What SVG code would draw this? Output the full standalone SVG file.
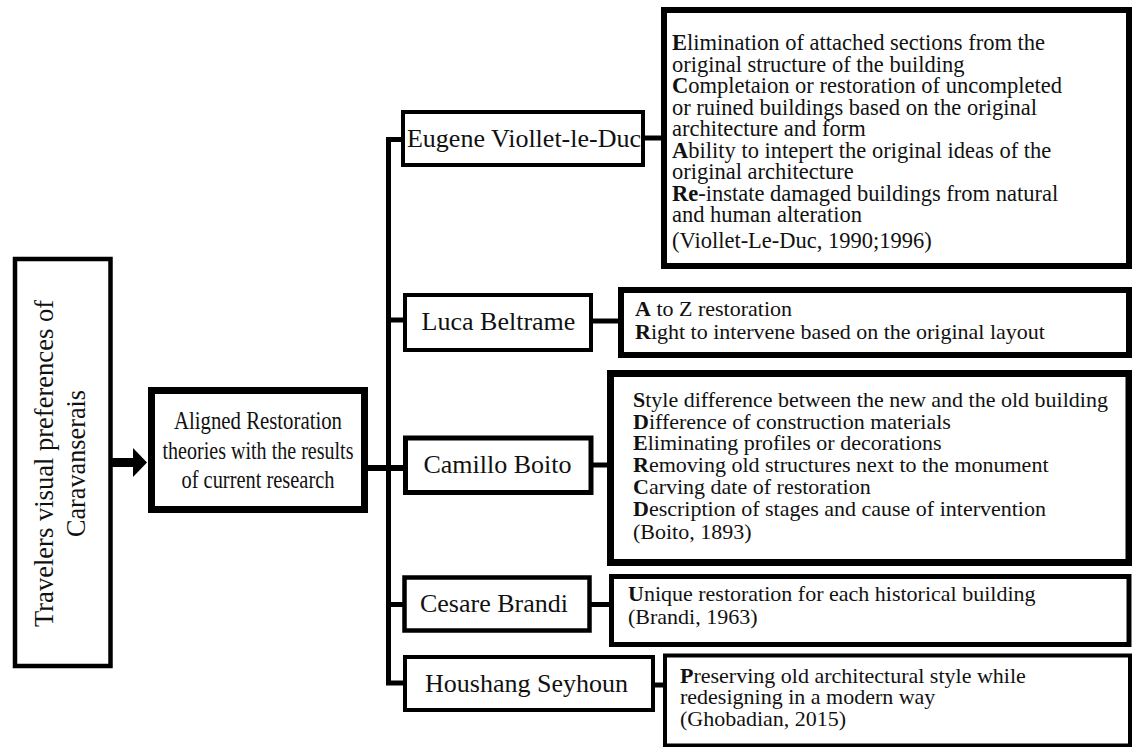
<svg xmlns="http://www.w3.org/2000/svg" width="1132" height="747" viewBox="0 0 1132 747">
<style>
text{font-family:"Liberation Serif","Times New Roman",serif;fill:#111}
.box{fill:#fff;stroke:#000}
.name{font-size:26px;text-anchor:middle}
.desc{font-size:22px}
.d1{font-size:22.5px}
.b{font-weight:bold}
.con{stroke:#000;fill:none}
</style>
<defs>
<marker id="ah" markerUnits="userSpaceOnUse" markerWidth="15" markerHeight="30" refX="0" refY="14.5" orient="auto">
<path d="M0,0 L14,14.5 L0,29 Z" fill="#000"/>
</marker>
</defs>
<rect width="1132" height="747" fill="#fff"/>

<g id="connectors">
<line class="con" x1="112" y1="462.5" x2="133" y2="462.5" stroke-width="9" marker-end="url(#ah)"/>
<line class="con" x1="388.5" y1="137" x2="388.5" y2="685" stroke-width="5"/>
<line class="con" x1="386" y1="139.5" x2="403" y2="139.5" stroke-width="5"/>
<line class="con" x1="388" y1="320" x2="404" y2="320" stroke-width="5"/>
<line class="con" x1="366" y1="468" x2="404" y2="468" stroke-width="6"/>
<line class="con" x1="388" y1="604.5" x2="403" y2="604.5" stroke-width="5"/>
<line class="con" x1="386" y1="683" x2="404" y2="683" stroke-width="5"/>
<line class="con" x1="644" y1="138" x2="663" y2="138" stroke-width="5"/>
<line class="con" x1="592" y1="321" x2="620" y2="321" stroke-width="5"/>
<line class="con" x1="592" y1="465" x2="609" y2="465" stroke-width="5"/>
<line class="con" x1="591" y1="604.5" x2="611" y2="604.5" stroke-width="5"/>
<line class="con" x1="654" y1="685" x2="665" y2="685" stroke-width="5"/>
</g>

<g id="n-travelers">
<rect class="box" x="15" y="259" width="95.5" height="407" stroke-width="4.5"/>
<text transform="translate(53,463.5) rotate(-90)" font-size="28" text-anchor="middle" textLength="327" lengthAdjust="spacingAndGlyphs">Travelers visual  preferences of</text>
<text transform="translate(85,463.5) rotate(-90)" font-size="28" text-anchor="middle" textLength="147" lengthAdjust="spacingAndGlyphs">Caravanserais</text>
</g>

<g id="n-aligned">
<rect class="box" x="151.5" y="390.5" width="213" height="119" stroke-width="7"/>
<text x="258" y="429" font-size="25.5" text-anchor="middle" textLength="168" lengthAdjust="spacingAndGlyphs">Aligned Restoration</text>
<text x="258" y="458.5" font-size="25.5" text-anchor="middle" textLength="191" lengthAdjust="spacingAndGlyphs">theories with the results</text>
<text x="258" y="488" font-size="25.5" text-anchor="middle" textLength="153" lengthAdjust="spacingAndGlyphs">of current research</text>
</g>

<g id="n-eugene">
<rect class="box" x="403" y="112" width="240" height="53" stroke-width="4"/>
<text class="name" x="524" y="147" font-size="24.5">Eugene Viollet-le-Duc</text>
</g>
<g id="n-luca">
<rect class="box" x="405" y="295" width="186" height="55" stroke-width="4"/>
<text class="name" x="498.5" y="330">Luca Beltrame</text>
</g>
<g id="n-camillo">
<rect class="box" x="405.5" y="438" width="185.5" height="54.5" stroke-width="5"/>
<text class="name" x="497.5" y="473">Camillo Boito</text>
</g>
<g id="n-cesare">
<rect class="box" x="404.5" y="577.5" width="185" height="53" stroke-width="4.5"/>
<text class="name" x="494" y="612">Cesare Brandi</text>
</g>
<g id="n-houshang">
<rect class="box" x="405" y="657" width="248" height="53" stroke-width="4"/>
<text class="name" x="526.5" y="692">Houshang Seyhoun</text>
</g>

<g id="d-eugene">
<rect class="box" x="664" y="10" width="465" height="256" stroke-width="6"/>
<text class="d1" x="672" y="50"><tspan class="b">E</tspan>limination of attached sections from the</text>
<text class="d1" x="672" y="71.5">original structure of the building</text>
<text class="d1" x="672" y="93"><tspan class="b">C</tspan>ompletaion or restoration of uncompleted</text>
<text class="d1" x="672" y="114.5">or ruined buildings based on the original</text>
<text class="d1" x="672" y="136">architecture and form</text>
<text class="d1" x="672" y="157.5"><tspan class="b">A</tspan>bility to intepert the original ideas of the</text>
<text class="d1" x="672" y="179">original architecture</text>
<text class="d1" x="672" y="200.5"><tspan class="b">Re</tspan>-instate damaged buildings from natural</text>
<text class="d1" x="672" y="222">and human alteration</text>
<text class="d1" x="672" y="248">(Viollet-Le-Duc, 1990;1996)</text>
</g>
<g id="d-luca">
<rect class="box" x="621" y="290" width="508" height="65" stroke-width="6"/>
<text class="desc" x="635" y="316"><tspan class="b">A</tspan> to Z restoration</text>
<text class="desc" x="635" y="339"><tspan class="b">R</tspan>ight to intervene based on the original layout</text>
</g>
<g id="d-camillo">
<rect class="box" x="610.5" y="373.5" width="518.5" height="189" stroke-width="7"/>
<text class="desc" x="633" y="407"><tspan class="b">S</tspan>tyle difference between the new and the old building</text>
<text class="desc" x="633" y="428.5"><tspan class="b">D</tspan>ifference of construction materials</text>
<text class="desc" x="633" y="450"><tspan class="b">E</tspan>liminating profiles or decorations</text>
<text class="desc" x="633" y="472"><tspan class="b">R</tspan>emoving old structures next to the monument</text>
<text class="desc" x="633" y="494"><tspan class="b">C</tspan>arving date of restoration</text>
<text class="desc" x="633" y="516"><tspan class="b">D</tspan>escription of stages and cause of intervention</text>
<text class="desc" x="633" y="539">(Boito, 1893)</text>
</g>
<g id="d-cesare">
<rect class="box" x="611.5" y="576.5" width="517.5" height="68" stroke-width="5"/>
<text class="desc" x="628" y="601"><tspan class="b">U</tspan>nique restoration for each historical building</text>
<text class="desc" x="628" y="624">(Brandi, 1963)</text>
</g>
<g id="d-houshang">
<rect class="box" x="665" y="655.5" width="465" height="90" stroke-width="4"/>
<text class="desc" x="680" y="683"><tspan class="b">P</tspan>reserving old architectural style while</text>
<text class="desc" x="680" y="704">redesigning in a modern way</text>
<text class="desc" x="680" y="726">(Ghobadian, 2015)</text>
</g>
</svg>
